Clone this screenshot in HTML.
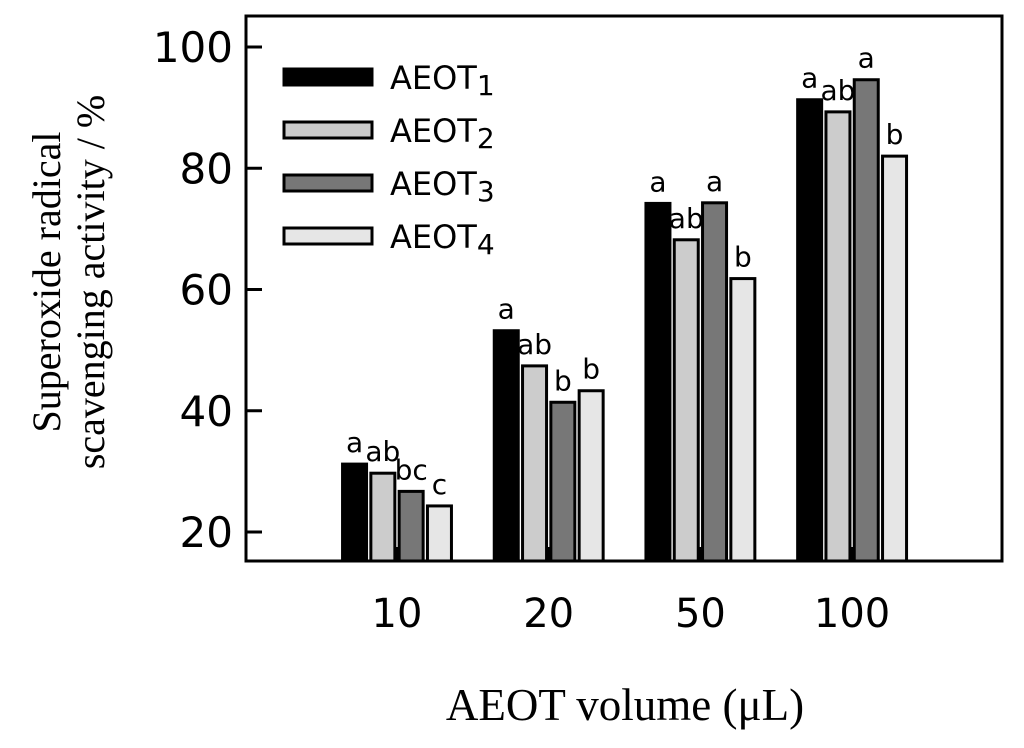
<!DOCTYPE html>
<html><head><meta charset="utf-8"><style>
body{margin:0;background:#fff}
svg text{font-family:"DejaVu Sans","Liberation Sans",sans-serif}
</style></head><body>
<svg id="chart" width="1024" height="743" xmlns="http://www.w3.org/2000/svg">
<rect x="246" y="16" width="756" height="545" fill="none" stroke="#000" stroke-width="3"/>
<g id="yticks"></g><g id="bars"></g><g id="legend"></g>
<text transform="translate(60,282) rotate(-90)" text-anchor="middle" style="font-family:'Liberation Serif',serif;font-size:40px">Superoxide radical</text>
<text transform="translate(104,282) rotate(-90)" text-anchor="middle" style="font-family:'Liberation Serif',serif;font-size:40px">scavenging activity / %</text>
<text x="625" y="720" text-anchor="middle" style="font-family:'Liberation Serif',serif;font-size:45px">AEOT volume (μL)</text>
</svg>
<script>
const categories=["10","20","50","100"];
const seriesNames=["1","2","3","4"];
const s1=[31.2,53.2,74.2,91.3];
const s2=[29.7,47.4,68.2,89.3];
const s3=[26.7,41.4,74.3,94.6];
const s4=[24.3,43.3,61.8,82.0];
const letters1=["a","a","a","a"];
const letters2=["ab","ab","ab","ab"];
const letters3=["bc","b","a","a"];
const letters4=["c","b","b","b"];
const yTicks=[20,40,60,80,100];
const series=[s1,s2,s3,s4],letters=[letters1,letters2,letters3,letters4];
const fills=["#000","#cccccc","#777777","#e6e6e6"];
const NS="http://www.w3.org/2000/svg";
const y=v=>532-(v-20)*6.0625;
const groupX=i=>397+i*151.7;
const BW=24,STEP=28.3;
function mk(t,a,p){const e=document.createElementNS(NS,t);for(const k in a)e.setAttribute(k,a[k]);p.appendChild(e);return e;}
const yt=document.getElementById('yticks');
yTicks.forEach(v=>{
 const l=mk('line',{x1:246,x2:262,y1:y(v),y2:y(v),stroke:'#000','stroke-width':3},yt);
 
 
 const t=mk('text',{x:233,y:y(v)+15,'text-anchor':'end','font-size':42},yt);t.textContent=v;
 
 
});
const bg=document.getElementById('bars');
categories.forEach((c,i)=>{
 const cx=groupX(i);
 const t=mk('text',{x:cx,y:627,'text-anchor':'middle','font-size':40},bg);t.textContent=c;
 
 
 const left=cx-(3*STEP+BW)/2;
 series.forEach((s,j)=>{
  const x=left+j*STEP;
  const r=mk('rect',{x:x,y:y(s[i]),width:BW,height:561-y(s[i]),fill:fills[j],stroke:'#000','stroke-width':3},bg);
  
  
  const lt=mk('text',{x:x+BW/2,y:y(s[i])-12,'text-anchor':'middle','font-size':28},bg);lt.textContent=letters[j][i];
  
  
 });
 const tk=mk('line',{x1:cx,x2:cx,y1:561,y2:547,stroke:'#000','stroke-width':3},bg);
 
 
});
const lg=document.getElementById('legend');
seriesNames.forEach((n,j)=>{
 const cy=77+j*53;
 const r=mk('rect',{x:284,y:cy-8,width:88,height:16,fill:fills[j],stroke:'#000','stroke-width':3},lg);
 
 
 const t=mk('text',{x:390,y:cy+12,'font-size':32},lg);
 
 
 t.textContent='AEOT';
 const sub=mk('tspan',{'font-size':28,dy:6},t);sub.textContent=n;
});
</script>
</body></html>
